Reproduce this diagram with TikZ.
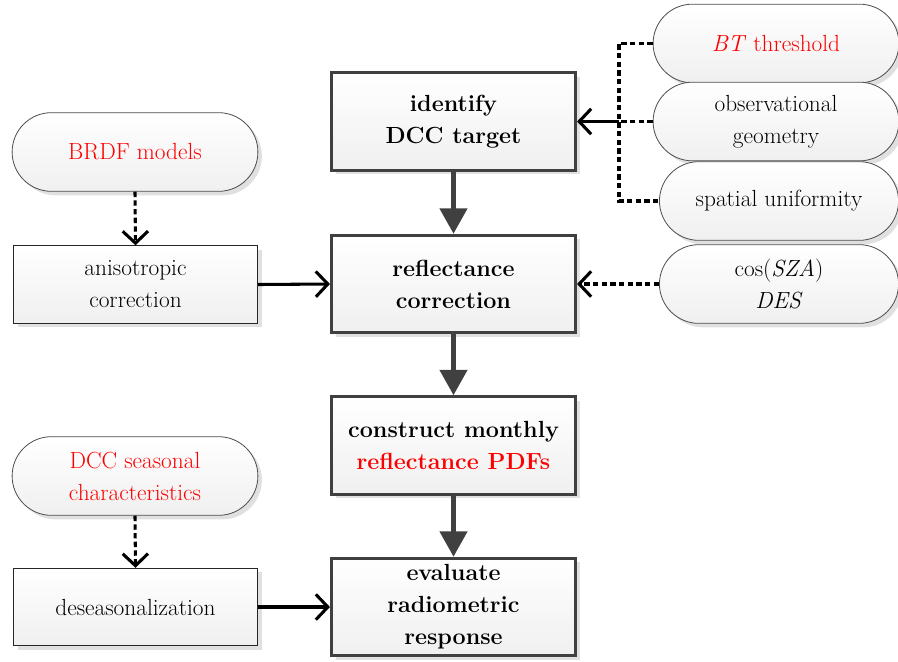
\documentclass[tikz,border=0pt]{standalone}
\usepackage{tikz}
\usetikzlibrary{arrows.meta,positioning,shapes.misc,shadows}

\begin{document}
\begin{tikzpicture}[
    x=0.75pt, y=-0.75pt,
    font=\fontsize{17.5}{24}\selectfont,
    mainbox/.style={rectangle, draw=black!75, line width=2.3pt, top color=white, bottom color=gray!12, minimum width=183pt, minimum height=73pt, align=center, font=\fontsize{17.5}{24}\selectfont\bfseries, drop shadow={shadow xshift=3pt, shadow yshift=-3pt, fill=gray!40, opacity=.6}},
    sidebox/.style={rectangle, draw=black!85, line width=0.8pt, top color=white, bottom color=gray!12, minimum width=183pt, minimum height=58pt, align=center, drop shadow={shadow xshift=3pt, shadow yshift=-3pt, fill=gray!40, opacity=.6}},
    pill/.style={rounded rectangle, draw=black!70, line width=0.6pt, top color=white, bottom color=gray!12, minimum width=191pt, minimum height=59pt, align=center, drop shadow={shadow xshift=3pt, shadow yshift=-3pt, fill=gray!40, opacity=.6}},
    flow/.style={draw=black!75, line width=3.8pt, -{Triangle[width=20pt, length=19pt]}},
    feed/.style={draw=black, line width=2.3pt, -{Straight Barb[width=19pt, length=9pt, line width=2.3pt]}},
    dashfeed/.style={feed, dash pattern=on 4pt off 2.5pt},
    dashline/.style={draw=black, line width=2.3pt, dash pattern=on 4pt off 2.5pt}
  ]
    \useasboundingbox (0,0) rectangle (898,661);
    % main chain
    \node[mainbox] (identify) at (453.5,121.5) {identify\\DCC target};
    \node[mainbox] (refl) at (453.5,284) {reflectance\\correction};
    \node[mainbox] (pdfs) at (453.5,445.5) {construct monthly\\\textcolor{red}{reflectance PDFs}};
    \node[mainbox] (eval) at (453.5,607) {evaluate\\radiometric\\response};
    % left side
    \node[pill] (brdf) at (135,152) {\textcolor{red}{BRDF models}};
    \node[sidebox] (aniso) at (135.5,284.5) {anisotropic\\correction};
    \node[pill] (season) at (135,476) {\textcolor{red}{DCC seasonal}\\\textcolor{red}{characteristics}};
    \node[sidebox] (deseas) at (135.5,607) {deseasonalization};
    % right side
    \node[pill] (bt) at (776,43.5) {\textcolor{red}{\textit{BT} threshold}};
    \node[pill] (geom) at (776,121.5) {observational\\geometry};
    \node[pill, minimum width=186pt] (unif) at (779,201) {spatial uniformity};
    \node[pill, minimum width=186pt] (sza) at (779,284) {cos(\textit{SZA})\\\textit{DES}};
    \coordinate (jn) at (619,121.5);
    % connectors
    \draw[flow] (identify.south) -- (refl.north);
    \draw[flow] (refl.south) -- (pdfs.north);
    \draw[flow] (pdfs.south) -- (eval.north);
    \draw[dashfeed] (brdf.south) -- (aniso.north);
    \draw[dashfeed] (season.south) -- (deseas.north);
    \draw[feed] (aniso.east) -- (refl.west);
    \draw[feed] (deseas.east) -- (eval.west);
    \draw[dashline] (bt.west) -| (jn) |- (unif.west);
    \draw[dashline] (geom.west) -- (jn);
    \draw[feed] (jn) -- (identify.east);
    \draw[dashfeed] (sza.west) -- (refl.east);
  \end{tikzpicture}
\end{document}
